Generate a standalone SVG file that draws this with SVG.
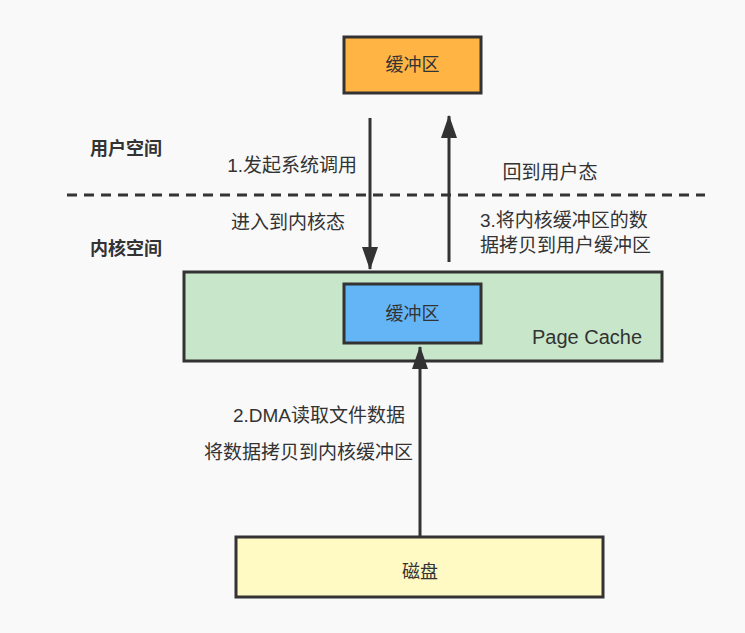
<svg xmlns="http://www.w3.org/2000/svg" width="745" height="633" viewBox="0 0 745 633">
<style>
.box{stroke:#333;stroke-width:3}
.t{font-family:"Liberation Sans","Noto Sans CJK SC",sans-serif;font-size:19px;fill:#333}
.n{font-size:18px}
.b{font-weight:bold;font-size:18px}
.ln{stroke:#333;stroke-width:3;fill:none}
</style>
<defs>
<marker id="ah" viewBox="0 0 23 16" refX="22" refY="8" markerWidth="23" markerHeight="16" orient="auto" markerUnits="userSpaceOnUse">
<path d="M0,0 L23,8 L0,16 z" fill="#333"/>
</marker>
</defs>
<rect width="745" height="633" fill="#f9f9f9"/>
<g id="labels">
<text class="t b" x="90" y="155">用户空间</text>
<text class="t b" x="90" y="255">内核空间</text>
</g>
<g id="divider">
<line x1="67" y1="195" x2="705" y2="195" stroke="#333" stroke-width="3" stroke-dasharray="10,7"/>
</g>
<g id="user-buffer">
<rect class="box" x="344" y="37" width="137" height="56" fill="#ffb444"/>
<text class="t n" x="412.5" y="71" text-anchor="middle">缓冲区</text>
</g>
<g id="page-cache">
<rect class="box" x="184" y="272" width="478" height="89" fill="#c8e6c9"/>
<text class="t" x="642" y="344" text-anchor="end" style="font-size:20px">Page Cache</text>
</g>
<g id="kernel-buffer">
<rect class="box" x="344" y="284" width="137" height="59" fill="#64b5f6"/>
<text class="t n" x="412.5" y="320" text-anchor="middle">缓冲区</text>
</g>
<g id="disk">
<rect class="box" x="236" y="537" width="367" height="60" fill="#fff9c4"/>
<text class="t n" x="420" y="578" text-anchor="middle">磁盘</text>
</g>
<g id="connectors">
<line class="ln" x1="370" y1="118" x2="370" y2="269" marker-end="url(#ah)"/>
<line class="ln" x1="449" y1="262" x2="449" y2="116" marker-end="url(#ah)"/>
<line class="ln" x1="420" y1="536" x2="420" y2="347" marker-end="url(#ah)"/>
</g>
<g id="edge-labels">
<text class="t" x="357" y="172" text-anchor="end">1.发起系统调用</text>
<text class="t" x="288" y="229" text-anchor="middle">进入到内核态</text>
<text class="t" x="550" y="179" text-anchor="middle">回到用户态</text>
<text class="t" x="480" y="227">3.将内核缓冲区的数</text>
<text class="t" x="480" y="252">据拷贝到用户缓冲区</text>
<text class="t" x="405" y="422" text-anchor="end">2.DMA读取文件数据</text>
<text class="t" x="413" y="459" text-anchor="end">将数据拷贝到内核缓冲区</text>
</g>
</svg>
